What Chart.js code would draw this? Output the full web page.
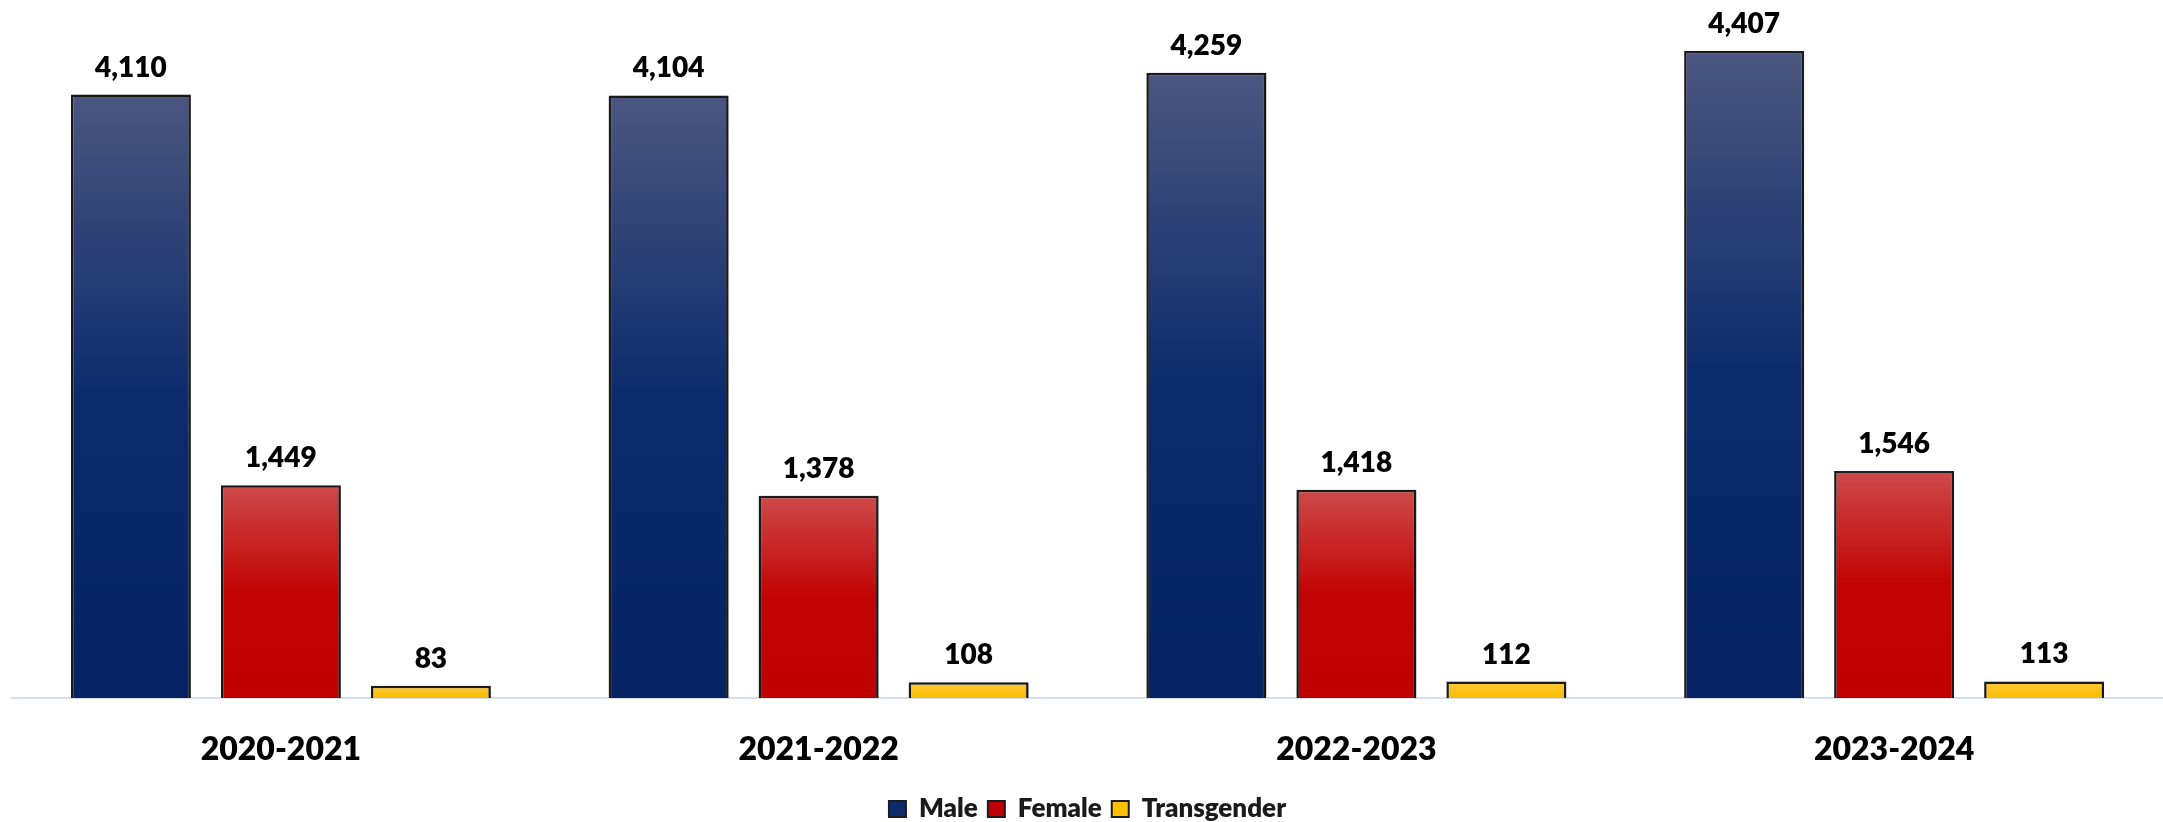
<!DOCTYPE html>
<html>
<head>
<meta charset="utf-8">
<script src="https://cdn.jsdelivr.net/npm/chart.js@4"></script>
<style>
  html, body { margin: 0; padding: 0; background: #ffffff; }
  #wrap { width: 2163px; height: 822px; }
</style>
</head>
<body>
<div id="wrap"><canvas id="c" width="2163" height="822"></canvas></div>
<script>
const categories = ["2020-2021", "2021-2022", "2022-2023", "2023-2024"];
const seriesNames = ["Male", "Female", "Transgender"];
const maleValues = [4110, 4104, 4259, 4407];
const femaleValues = [1449, 1378, 1418, 1546];
const transgenderValues = [83, 108, 112, 113];

const FONT = "Lato, 'Open Sans', 'Liberation Sans', sans-serif";
const WEIGHT = "800";

const gradientStops = {
  Male: [[0, "#4b5680"], [0.5, "#0d2b6c"], [1, "#062262"]],
  Female: [[0, "#cd4a4a"], [0.5, "#c20303"], [1, "#bf0000"]],
  Transgender: [[0, "#ffca3a"], [1, "#f7bd00"]]
};
const solidColors = { Male: "#0d2b6c", Female: "#c00000", Transgender: "#ffc000" };

function barGradient(name) {
  return function (ctx) {
    const chart = ctx.chart;
    const y = chart.scales && chart.scales.y;
    if (!y || ctx.type !== "data" || ctx.parsed === undefined) return solidColors[name];
    const top = y.getPixelForValue(ctx.parsed.y);
    const base = y.getPixelForValue(0);
    if (!isFinite(top) || !isFinite(base) || Math.abs(base - top) < 1) return solidColors[name];
    const g = chart.ctx.createLinearGradient(0, top, 0, base);
    gradientStops[name].forEach(s => g.addColorStop(s[0], s[1]));
    return g;
  };
}

const shadowPlugin = {
  id: "barShadow",
  beforeDatasetsDraw(chart) {
    const c = chart.ctx;
    c.save();
    c.shadowColor = "rgba(0,0,0,0.28)";
    c.shadowBlur = 7;
    c.shadowOffsetX = 2;
    c.shadowOffsetY = 1;
  },
  afterDatasetsDraw(chart) {
    chart.ctx.restore();
  }
};

const valueLabelPlugin = {
  id: "valueLabels",
  afterDatasetsDraw(chart) {
    const c = chart.ctx;
    c.save();
    c.shadowColor = "transparent";
    c.font = WEIGHT + " 28px " + FONT;
    c.fillStyle = "#000000";
    c.textAlign = "center";
    c.textBaseline = "alphabetic";
    chart.data.datasets.forEach((ds, di) => {
      const meta = chart.getDatasetMeta(di);
      meta.data.forEach((bar, i) => {
        const v = ds.data[i];
        c.fillText(v.toLocaleString("en-US"), bar.x, bar.y - 18);
      });
    });
    c.restore();
  }
};

const datasets = [
  { label: seriesNames[0], data: maleValues },
  { label: seriesNames[1], data: femaleValues },
  { label: seriesNames[2], data: transgenderValues }
].map(d => Object.assign(d, {
  backgroundColor: barGradient(d.label),
  borderColor: "#1c1c1c",
  borderWidth: 2.5,
  borderSkipped: "start",
  categoryPercentage: 0.8368,
  barPercentage: 0.8
}));

new Chart(document.getElementById("c"), {
  type: "bar",
  data: { labels: categories, datasets: datasets },
  plugins: [shadowPlugin, valueLabelPlugin],
  options: {
    responsive: false,
    animation: false,
    devicePixelRatio: 1,
    layout: { padding: { left: 12, right: 0, top: 8, bottom: -10 } },
    scales: {
      y: {
        display: false,
        min: 0,
        max: 4700
      },
      x: {
        grid: { display: false, drawTicks: false },
        border: { display: true, color: "#d9dfe9", width: 2 },
        ticks: {
          color: "#000000",
          font: { family: FONT, size: 32, weight: WEIGHT },
          padding: 32
        },
        afterFit(scale) { scale.height = 88; }
      }
    },
    plugins: {
      tooltip: { enabled: false },
      legend: {
        position: "bottom",
        labels: {
          color: "#1a1a1a",
          font: { family: FONT, size: 26, weight: WEIGHT },
          boxWidth: 17,
          boxHeight: 16,
          padding: 10,
          generateLabels(chart) {
            return chart.data.datasets.map((ds, i) => ({
              text: ds.label,
              fillStyle: solidColors[ds.label],
              strokeStyle: "#1c1c1c",
              lineWidth: 2,
              hidden: false,
              datasetIndex: i,
              fontColor: "#1a1a1a"
            }));
          }
        }
      }
    }
  }
});
</script>
</body>
</html>
